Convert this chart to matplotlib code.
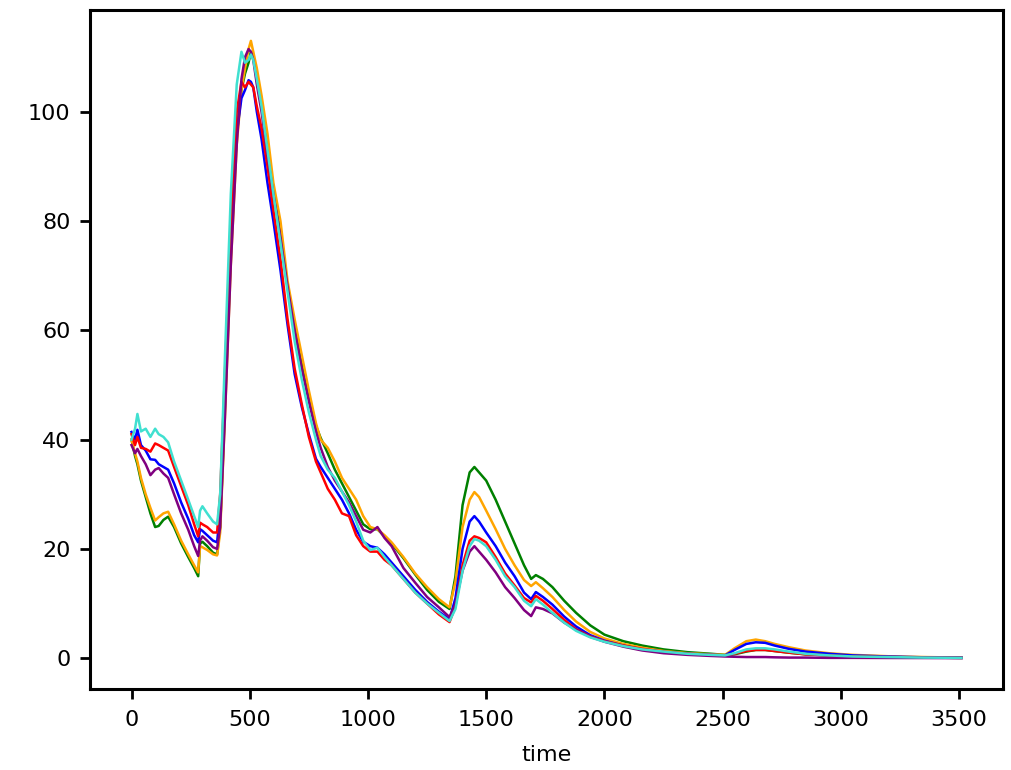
import numpy as np
import matplotlib
matplotlib.use("Agg")
import matplotlib.pyplot as plt

# sample times (shared by all series)
time = [0, 15, 25, 40, 60, 80, 100, 115, 135, 155,
        180, 210, 240, 265, 282, 290, 300, 320, 345, 362,
        375, 395, 420, 445, 465, 480, 495, 505, 515, 530,
        550, 575, 600, 630, 660, 690, 720, 750, 780, 800,
        830, 860, 890, 920, 950, 980, 1010, 1040, 1070, 1100,
        1150, 1200, 1250, 1300, 1345, 1370, 1400, 1430, 1450, 1470,
        1500, 1540, 1580, 1620, 1660, 1690, 1710, 1740, 1780, 1830,
        1880, 1940, 2000, 2080, 2160, 2250, 2350, 2450, 2510, 2550,
        2600, 2640, 2680, 2720, 2780, 2850, 2950, 3050, 3200, 3350,
        3510]

green = [40, 37, 35.5, 32.5, 29.5, 26.5, 24, 24.2, 25.3, 25.9,
         24, 21, 18.5, 16.5, 15, 21, 21.3, 20.5, 19.3, 19,
         24, 46, 74, 96, 104, 107, 109, 111, 110, 106,
         101, 94, 86, 78, 68, 61, 54, 48, 42.5, 40.3,
         37.5, 34.5, 32, 29.5, 27, 24.5, 23.6, 23.6, 22.3, 21,
         18.3, 15.3, 12.5, 10.3, 9.0, 15, 28, 34, 35, 34,
         32.5, 29, 25, 21, 17, 14.5, 15.2, 14.5, 13, 10.5,
         8.3, 6, 4.3, 3.1, 2.3, 1.6, 1.1, 0.8, 0.6, 0.7,
         1.2, 1.5, 1.5, 1.3, 1.0, 0.7, 0.5, 0.3, 0.2, 0.1,
         0.05]

orange = [40, 37.5, 36, 33, 30, 27.5, 25.2, 25.8, 26.5, 26.8,
          24.5, 21.5, 19, 17, 15.7, 20.5, 20.3, 19.8, 19, 18.8,
          23, 44, 72, 94, 104, 108, 111.5, 113, 111, 108,
          103, 96, 87, 80, 69, 62, 55.5, 49, 43, 40,
          38.5, 36, 33, 31, 29, 26, 24, 23.6, 22.5, 21.2,
          18.5, 15.5, 13, 10.8, 9.3, 14, 24, 29, 30.4, 29.5,
          27, 23.6, 20, 17, 14.3, 13.2, 13.9, 12.8, 11.2, 8.8,
          6.7, 4.8, 3.6, 2.6, 1.9, 1.3, 0.9, 0.7, 0.6, 1.8,
          3.1, 3.4, 3.1, 2.6, 2.0, 1.4, 0.9, 0.6, 0.35, 0.2,
          0.1]

blue = [41.4, 40, 41.8, 39, 38, 36.4, 36.3, 35.5, 35, 34.5,
        32, 28.5, 25.5, 22.5, 21.2, 23.6, 23.3, 22.5, 21.5, 21.2,
        27, 48, 76, 96, 102.5, 104, 105.8, 105.5, 104.5, 100,
        95, 87, 80, 71, 61, 52, 46, 41, 36.5, 35,
        33, 31, 29, 26.5, 23.5, 21.3, 20.5, 20.2, 19, 17.5,
        15, 12.5, 10.3, 8.5, 7.1, 11, 20, 25, 26, 25,
        23, 20.5, 17.5, 15, 12, 10.8, 12.1, 11.2, 9.8, 7.6,
        5.8, 4.2, 3.2, 2.3, 1.6, 1.1, 0.8, 0.6, 0.5, 1.5,
        2.6, 2.9, 2.8, 2.3, 1.7, 1.2, 0.8, 0.5, 0.3, 0.15,
        0.1]

red = [41, 39, 40.5, 38.5, 38.3, 37.8, 39.3, 39, 38.5, 38,
       35, 31.5, 28, 24.5, 22.3, 24.8, 24.5, 24, 23, 23,
       30, 52, 80, 100, 105.5, 104.5, 105.5, 105, 104.5, 101,
       97, 90, 82, 73, 62, 53, 46.5, 40.5, 36, 34,
       31, 29, 26.5, 26, 22.5, 20.5, 19.5, 19.5, 18, 17,
       14.5, 12, 10, 8, 6.6, 9.5, 17, 21.5, 22.3, 22,
       21.2, 18.5, 15.5, 13.3, 11, 10.2, 11.4, 10.5, 9, 7,
       5.3, 4, 3.1, 2.3, 1.7, 1.2, 0.8, 0.6, 0.5, 0.8,
       1.3, 1.5, 1.5, 1.3, 1.0, 0.7, 0.5, 0.3, 0.2, 0.1,
       0.05]

purple = [39, 37.5, 38.3, 37, 35.5, 33.5, 34.5, 34.8, 33.8, 33,
          30, 26.5, 23.5, 20.5, 18.7, 21.5, 22.3, 21.5, 20.3, 20,
          24, 44, 72, 94, 106, 110, 111.5, 111, 109.5, 105,
          100, 92, 85, 77, 68, 60, 53, 47, 41.5, 38.5,
          35, 32.5, 30.5, 28.5, 26, 23.5, 23, 24, 22, 20.5,
          16.5, 13.8, 11.2, 9.3, 7.5, 10, 16, 19.5, 20.5, 19.5,
          18, 15.7, 13, 11, 8.8, 7.7, 9.3, 9, 8.2, 6.5,
          5.2, 3.9, 3.0, 2.1, 1.4, 0.9, 0.6, 0.4, 0.3, 0.25,
          0.2, 0.2, 0.2, 0.15, 0.1, 0.1, 0.05, 0.05, 0.03, 0.02,
          0.0]

turquoise = [40, 42, 44.7, 41.5, 42, 40.5, 42, 41, 40.5, 39.5,
             36, 32.5, 29, 26, 24, 27, 27.8, 26.5, 25, 24.5,
             30, 55, 85, 105, 111, 109, 109.5, 110.5, 109.5, 106,
             101, 93, 85, 76, 67, 58, 51, 45, 40, 37,
             34.5, 33, 30.5, 28, 25, 21.5, 19.8, 20.2, 18.5, 17,
             14.5, 12, 10, 8.3, 6.8, 9, 16, 20.5, 21.8, 21.5,
             20.5, 18, 15, 13, 10.5, 9.5, 10.8, 9.8, 8.3, 6.5,
             5, 3.8, 3, 2.2, 1.6, 1.2, 0.8, 0.6, 0.5, 0.9,
             1.6, 1.8, 1.8, 1.6, 1.2, 0.8, 0.5, 0.3, 0.2, 0.1,
             0.05]

series = [(green, 'green'), (orange, 'orange'), (blue, 'blue'),
          (red, 'red'), (purple, 'purple'), (turquoise, 'turquoise')]

fig = plt.figure(figsize=(10.11, 7.7), dpi=100)
ax = fig.add_axes([90 / 1011, 81 / 770, 913 / 1011, 679 / 770])

for vals, col in series:
    ax.plot(time, vals, color=col, linewidth=1.8)

ax.set_xlabel('time', fontsize=16, labelpad=11)
ax.tick_params(labelsize=16, width=2, length=7)
ax.tick_params(axis='x', pad=8)
ax.tick_params(axis='y', pad=7)
for sp in ax.spines.values():
    sp.set_linewidth(2.2)

fig.savefig('out.png', dpi=100)
